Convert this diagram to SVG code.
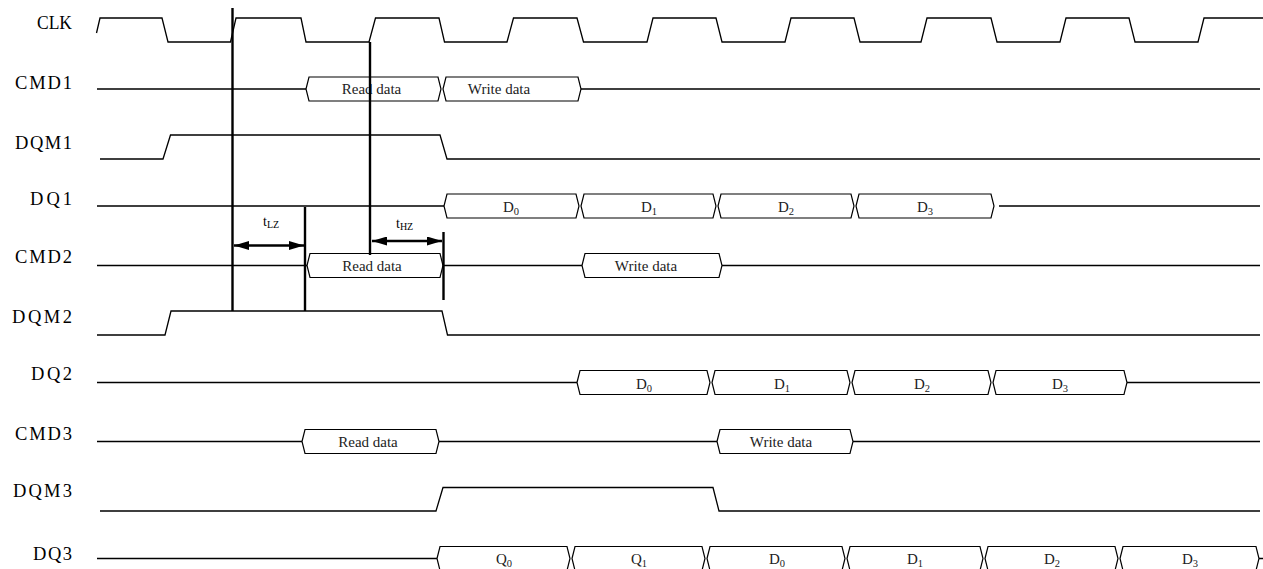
<svg xmlns="http://www.w3.org/2000/svg" width="1263" height="569" viewBox="0 0 1263 569">
<style>
.sig{fill:none;stroke:#000;stroke-width:1.3}
.box{fill:#fff;stroke:#000;stroke-width:1.2}
.lbl{font-family:"Liberation Serif","Times New Roman",serif;font-size:18.5px;fill:#000;text-anchor:end}
.bt{font-family:"Liberation Serif","Times New Roman",serif;font-size:15px;fill:#222;text-anchor:middle}
.sub{font-size:10.5px}
.mk{fill:none;stroke:#000;stroke-width:2.4}
.tt{font-family:"Liberation Serif","Times New Roman",serif;font-size:14px;fill:#000}
</style>
<defs>
<marker id="ah" markerUnits="userSpaceOnUse" markerWidth="15" markerHeight="9" refX="15" refY="4.5" orient="auto-start-reverse">
<path d="M0,0 L15,4.5 L0,9 z" fill="#000"/>
</marker>
</defs>
<rect width="1263" height="569" fill="#fff"/>

<g id="clk">
<text class="lbl" x="72" y="29" textLength="35" lengthAdjust="spacingAndGlyphs">CLK</text>
<path class="sig" d="M96.5,33 L100,18 H162 L168,42 H230.5 L236,18 H301 L306,42 H369 L375.5,18 H439 L444.5,42 H507 L513.5,18 H577 L583.5,42 H647 L653,18 H716 L722,42 H785 L791,18 H854 L860,42 H921 L927,18 H991 L997,42 H1060 L1066,18 H1129 L1135,42 H1198 L1204,18 H1263"/>
</g>

<g id="cmd1">
<text class="lbl" x="72" y="88.5" textLength="57" lengthAdjust="spacing">CMD1</text>
<path class="sig" d="M97,89 H306 M581,89 H1260"/>
<path class="box" d="M306,89 L309,77 H438 L441,89 L438,101 H309 Z"/>
<path class="box" d="M443,89 L446,77 H578 L581,89 L578,101 H446 Z"/>
<text class="bt" x="371.5" y="94">Read data</text>
<text class="bt" x="499" y="94">Write data</text>
</g>

<g id="dqm1">
<text class="lbl" x="72" y="148.5" textLength="57" lengthAdjust="spacing">DQM1</text>
<path class="sig" d="M100,159 H163 L170.5,135 H440 L447,159 H1260"/>
</g>

<g id="dq1">
<text class="lbl" x="72" y="205" textLength="42" lengthAdjust="spacing">DQ1</text>
<path class="sig" d="M97,206 H444 M999,206 H1260"/>
<path class="box" d="M444,206 L447,194 H576 L579,206 L576,218 H447 Z"/>
<path class="box" d="M581,206 L584,194 H713 L716,206 L713,218 H584 Z"/>
<path class="box" d="M718,206 L721,194 H851 L854,206 L851,218 H721 Z"/>
<path class="box" d="M856,206 L859,194 H991 L994,206 L991,218 H859 Z"/>
<text class="bt" x="511" y="211.5">D<tspan class="sub" dy="3">0</tspan></text>
<text class="bt" x="649" y="211.5">D<tspan class="sub" dy="3">1</tspan></text>
<text class="bt" x="786" y="211.5">D<tspan class="sub" dy="3">2</tspan></text>
<text class="bt" x="925" y="211.5">D<tspan class="sub" dy="3">3</tspan></text>
</g>

<g id="cmd2">
<text class="lbl" x="72" y="263" textLength="57" lengthAdjust="spacing">CMD2</text>
<path class="sig" d="M97,265.5 H307 M443,265.5 H582 M722,265.5 H1260"/>
<path class="box" d="M307,265.5 L310,253.5 H440 L443,265.5 L440,277.5 H310 Z"/>
<path class="box" d="M582,265.5 L585,253.5 H719 L722,265.5 L719,277.5 H585 Z"/>
<text class="bt" x="372" y="271">Read data</text>
<text class="bt" x="646" y="271">Write data</text>
</g>

<g id="dqm2">
<text class="lbl" x="72" y="323" textLength="60" lengthAdjust="spacing">DQM2</text>
<path class="sig" d="M97,335 H165 L171,311 H442 L447.5,335 H1260"/>
</g>

<g id="dq2">
<text class="lbl" x="72" y="380" textLength="41" lengthAdjust="spacing">DQ2</text>
<path class="sig" d="M97,382.5 H577 M1127,382.5 H1260"/>
<path class="box" d="M577,382.5 L580,370.5 H707 L710,382.5 L707,394.5 H580 Z"/>
<path class="box" d="M712,382.5 L715,370.5 H847 L850,382.5 L847,394.5 H715 Z"/>
<path class="box" d="M852,382.5 L855,370.5 H988 L991,382.5 L988,394.5 H855 Z"/>
<path class="box" d="M993,382.5 L996,370.5 H1124 L1127,382.5 L1124,394.5 H996 Z"/>
<text class="bt" x="644" y="388.5">D<tspan class="sub" dy="3">0</tspan></text>
<text class="bt" x="782" y="388.5">D<tspan class="sub" dy="3">1</tspan></text>
<text class="bt" x="922" y="388.5">D<tspan class="sub" dy="3">2</tspan></text>
<text class="bt" x="1060" y="388.5">D<tspan class="sub" dy="3">3</tspan></text>
</g>

<g id="cmd3">
<text class="lbl" x="72" y="440" textLength="57" lengthAdjust="spacing">CMD3</text>
<path class="sig" d="M97,441.5 H302 M439,441.5 H717 M853,441.5 H1260"/>
<path class="box" d="M302,441.5 L305,429.5 H436 L439,441.5 L436,453.5 H305 Z"/>
<path class="box" d="M717,441.5 L720,429.5 H850 L853,441.5 L850,453.5 H720 Z"/>
<text class="bt" x="368" y="447">Read data</text>
<text class="bt" x="781" y="447">Write data</text>
</g>

<g id="dqm3">
<text class="lbl" x="72" y="497" textLength="59" lengthAdjust="spacing">DQM3</text>
<path class="sig" d="M100,511 H436 L443,487.5 H713 L719,511 H1260"/>
</g>

<g id="dq3">
<text class="lbl" x="72" y="560" textLength="39" lengthAdjust="spacing">DQ3</text>
<path class="sig" d="M97,558.5 H437 M1259,558.5 H1263"/>
<path class="box" d="M437,558.5 L440,546.5 H567 L570,558.5 L567,570.5 H440 Z"/>
<path class="box" d="M572,558.5 L575,546.5 H702 L705,558.5 L702,570.5 H575 Z"/>
<path class="box" d="M707,558.5 L710,546.5 H842 L845,558.5 L842,570.5 H710 Z"/>
<path class="box" d="M847,558.5 L850,546.5 H980 L983,558.5 L980,570.5 H850 Z"/>
<path class="box" d="M985,558.5 L988,546.5 H1115 L1118,558.5 L1115,570.5 H988 Z"/>
<path class="box" d="M1120,558.5 L1123,546.5 H1256 L1259,558.5 L1256,570.5 H1123 Z"/>
<text class="bt" x="504" y="564">Q<tspan class="sub" dy="3">0</tspan></text>
<text class="bt" x="639" y="564">Q<tspan class="sub" dy="3">1</tspan></text>
<text class="bt" x="777" y="564">D<tspan class="sub" dy="3">0</tspan></text>
<text class="bt" x="915" y="564">D<tspan class="sub" dy="3">1</tspan></text>
<text class="bt" x="1052" y="564">D<tspan class="sub" dy="3">2</tspan></text>
<text class="bt" x="1190" y="564">D<tspan class="sub" dy="3">3</tspan></text>
</g>

<g id="connectors">
<line class="mk" x1="232.5" y1="8" x2="232.5" y2="311"/>
<line class="mk" x1="305" y1="207" x2="305" y2="311"/>
<line class="mk" x1="370" y1="42" x2="370" y2="255"/>
<line class="mk" x1="443.5" y1="232" x2="443.5" y2="300"/>
<line class="mk" x1="234" y1="245.5" x2="304" y2="245.5" marker-start="url(#ah)" marker-end="url(#ah)"/>
<line class="mk" x1="372" y1="241" x2="442" y2="241" marker-start="url(#ah)" marker-end="url(#ah)"/>
<text class="tt" x="263" y="226">t<tspan font-size="10" dy="2">LZ</tspan></text>
<text class="tt" x="396" y="228">t<tspan font-size="10" dy="2">HZ</tspan></text>
</g>
</svg>
